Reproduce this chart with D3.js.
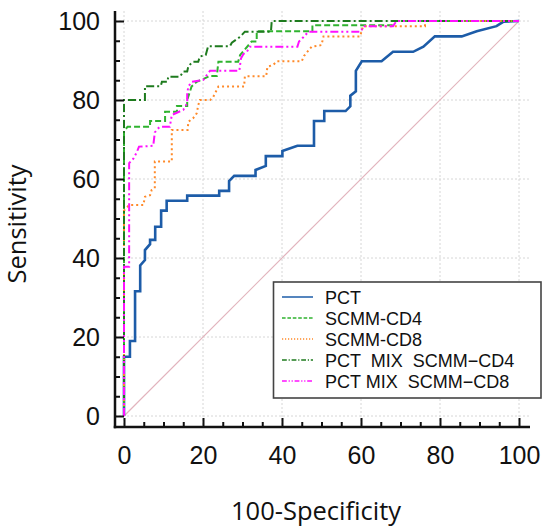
<!DOCTYPE html>
<html><head><meta charset="utf-8">
<script src="https://cdn.jsdelivr.net/npm/d3@7"></script>
<style>
html,body{margin:0;padding:0;background:#fff;}
svg{display:block;}
</style></head>
<body>
<svg id="chart" width="551" height="527"></svg>
<script>
// ---- data (100-Specificity, Sensitivity) ----
const seriesNames = ["PCT", "SCMM-CD4", "SCMM-CD8", "PCT  MIX  SCMM\u2212CD4", "PCT MIX  SCMM\u2212CD8"];
const pctPoints = [[0,0],[0,15],[1.5,15],[1.5,19],[2.8,19],[2.8,31.6],[4.1,31.6],[4.1,38.1],[5.3,39.5],[5.3,42],[6.6,43.5],[6.6,44.6],[7.9,44.6],[7.9,47.9],[9.4,47.9],[9.4,52],[10.8,52],[10.8,54.5],[16,54.5],[16,55.8],[24.1,55.8],[24.1,57],[26.6,57],[26.6,59.5],[27.9,60.8],[33.3,60.8],[33.3,62.3],[35.9,63.3],[35.9,65.8],[40.1,65.8],[40.1,67.1],[43.9,68.4],[48.1,68.4],[48.1,74.7],[50.7,74.7],[50.7,77.2],[56.1,77.2],[57.3,78.4],[57.3,81.1],[58.7,82.2],[58.7,87.4],[60.2,89.8],[65.2,89.8],[68.1,92.2],[73.2,92.2],[75.8,93.5],[78.7,96.1],[85.5,96.1],[89.3,97.4],[94.3,98.7],[96,99.8],[100,100]];
const cd4Points = [[0,0],[0,72.2],[0.9,73.2],[6.6,73.2],[6.6,74.7],[10.4,74.7],[10.4,77],[13.4,77],[13.4,78.5],[16,78.5],[16,80],[17.1,83.4],[18.4,84.6],[21.8,86.1],[23.5,86.1],[23.9,89.7],[28.9,89.7],[29.4,91.4],[32.3,94.8],[33.6,94.8],[33.6,97.4],[47.7,97.4],[47.7,98.9],[68,98.9],[68,100],[100,100]];
const cd8Points = [[0,0],[0,52],[1.3,53.4],[4.9,53.4],[5.3,55.5],[6.6,55.9],[7,57.2],[7.8,57.6],[7.8,64.4],[12.1,64.4],[12.1,72.4],[16.1,72.4],[16.3,74.5],[17.5,75.4],[18.4,76.6],[18.8,78.7],[19.2,80],[21.8,80],[22.6,80.8],[23.9,83.4],[30.4,83.4],[30.6,86],[36,86],[36.3,88.4],[37.8,88.9],[38.7,89.8],[45,89.8],[45.6,91.2],[47.5,93.5],[50,93.9],[50.5,96.1],[59.8,96.1],[60.2,97.7],[60.6,98.7],[76.2,98.7],[76.2,100],[100,100]];
const mixCd4Points = [[0,0],[0,80],[5.3,80],[5.3,83.5],[9.3,83.5],[9.6,84.6],[11,84.6],[11.2,85.9],[14.2,85.9],[15,87.2],[16,87.2],[16.3,88.6],[17.5,89.7],[18.8,89.7],[19.2,91],[20.7,91.4],[21.3,93.6],[26.8,93.6],[27.3,94.5],[29.4,96],[30.6,97.3],[37.2,97.3],[37.4,100],[100,100]];
const mixCd8Points = [[0,0],[0,37.8],[1.3,37.8],[1.3,64],[2.4,65.2],[3.2,66.7],[3.8,68.2],[7.4,68.4],[7.8,71.8],[9,73.2],[11.6,73.2],[12.1,76.2],[15,77.5],[16,79.2],[16,81.7],[16.3,83.4],[17.1,84.6],[20.1,85.1],[21.3,86.8],[21.8,87.4],[29.2,87.4],[29.6,90.5],[30.2,91.6],[31.1,92.2],[31.9,93.5],[43.9,93.5],[44.3,94.8],[45.4,95.9],[46.7,97.3],[60,97.3],[60.6,98.7],[68.1,98.7],[69,100],[100,100]];
const majorTicks = [0, 20, 40, 60, 80, 100];
const minorTicks = [5,10,15,25,30,35,45,50,55,65,70,75,85,90,95];
const xTitle = "100-Specificity";
const yTitle = "Sensitivity";

// ---- styles ----
const styles = [
  {color:"#1d5ca8", width:2.6, dash:null},
  {color:"#2fb32f", width:2, dash:"6,3"},
  {color:"#ff8a2a", width:2, dash:"2,3"},
  {color:"#1e7b1e", width:2, dash:"8,3,2,3"},
  {color:"#ff10ff", width:2, dash:"8,3,2,3,2,3"}
];
const allSeries = [pctPoints, cd4Points, cd8Points, mixCd4Points, mixCd8Points];

const svg = d3.select("#chart");
const x = d3.scaleLinear().domain([0,100]).range([124,519]);
const y = d3.scaleLinear().domain([0,100]).range([416,21]);
const frame = {left:115, right:530, top:11, bottom:427};

// gridlines
const grid = svg.append("g").attr("stroke","#d6d6d6").attr("stroke-width",1).attr("stroke-dasharray","2,2");
majorTicks.forEach(t=>{
  grid.append("line").attr("x1",x(t)).attr("x2",x(t)).attr("y1",frame.top).attr("y2",frame.bottom);
  grid.append("line").attr("x1",frame.left).attr("x2",frame.right).attr("y1",y(t)).attr("y2",y(t));
});

// diagonal reference
svg.append("line").attr("x1",x(0)).attr("y1",y(0)).attr("x2",x(100)).attr("y2",y(100))
  .attr("stroke","#e2b4bd").attr("stroke-width",1.2);

// curves
const line = d3.line().x(d=>x(d[0])).y(d=>y(d[1]));
allSeries.forEach((pts,i)=>{
  const s = styles[i];
  svg.append("path").datum(pts).attr("d",line).attr("fill","none")
    .attr("stroke",s.color).attr("stroke-width",s.width)
    .attr("stroke-dasharray",s.dash).attr("stroke-linejoin","miter");
});

// axes
const fontTicks = "'Liberation Sans', Arial, sans-serif";
const yAxis = svg.append("g").attr("transform",`translate(${frame.left},0)`)
  .call(d3.axisLeft(y).tickValues(majorTicks).tickSize(-9).tickPadding(15).tickFormat(d3.format("d")));
const yMinor = svg.append("g").attr("transform",`translate(${frame.left},0)`)
  .call(d3.axisLeft(y).tickValues(minorTicks).tickSize(-5).tickFormat(""));
const xAxis = svg.append("g").attr("transform",`translate(0,${frame.bottom})`)
  .call(d3.axisBottom(x).tickValues(majorTicks).tickSize(-9).tickPadding(19).tickFormat(d3.format("d")));
const xMinor = svg.append("g").attr("transform",`translate(0,${frame.bottom})`)
  .call(d3.axisBottom(x).tickValues(minorTicks).tickSize(-5).tickFormat(""));
[yAxis,yMinor,xAxis,xMinor].forEach(g=>{
  g.select(".domain").remove();
  g.selectAll(".tick line").attr("stroke","#111").attr("stroke-width",2);
  g.selectAll("text").attr("font-family",fontTicks).attr("font-size",25).attr("fill","#111");
});
svg.append("line").attr("x1",frame.left).attr("x2",frame.left).attr("y1",frame.top).attr("y2",frame.bottom+1.25)
  .attr("stroke","#111").attr("stroke-width",2.5);
svg.append("line").attr("x1",frame.left-1.25).attr("x2",frame.right).attr("y1",frame.bottom).attr("y2",frame.bottom)
  .attr("stroke","#111").attr("stroke-width",2.5);

// titles
const fontTitle = "'Open Sans', 'Noto Sans', sans-serif";
svg.append("text").attr("x",316).attr("y",520).attr("text-anchor","middle")
  .attr("font-family",fontTitle).attr("font-size",25.5).attr("fill","#111").text(xTitle);
svg.append("text").attr("transform","translate(26,224) rotate(-90)").attr("text-anchor","middle")
  .attr("font-family",fontTitle).attr("font-size",25.5).attr("fill","#111").text(yTitle);

// legend
const lg = svg.append("g");
lg.append("rect").attr("x",273.5).attr("y",282).attr("width",267.5).attr("height",116)
  .attr("fill","#fff").attr("stroke","#444").attr("stroke-width",1.6);
seriesNames.forEach((name,i)=>{
  const cy = 297 + i*21;
  const s = styles[i];
  lg.append("line").attr("x1",282).attr("x2",313).attr("y1",cy).attr("y2",cy)
    .attr("stroke",s.color).attr("stroke-width",1.5).attr("stroke-dasharray",s.dash ? s.dash.split(",").map(v=>v*0.6).join(",") : null);
  lg.append("text").attr("x",325).attr("y",cy+6.5).attr("font-family",fontTicks).attr("font-size",18)
    .attr("fill","#111").style("white-space","pre").text(name);
});
</script>
</body></html>
